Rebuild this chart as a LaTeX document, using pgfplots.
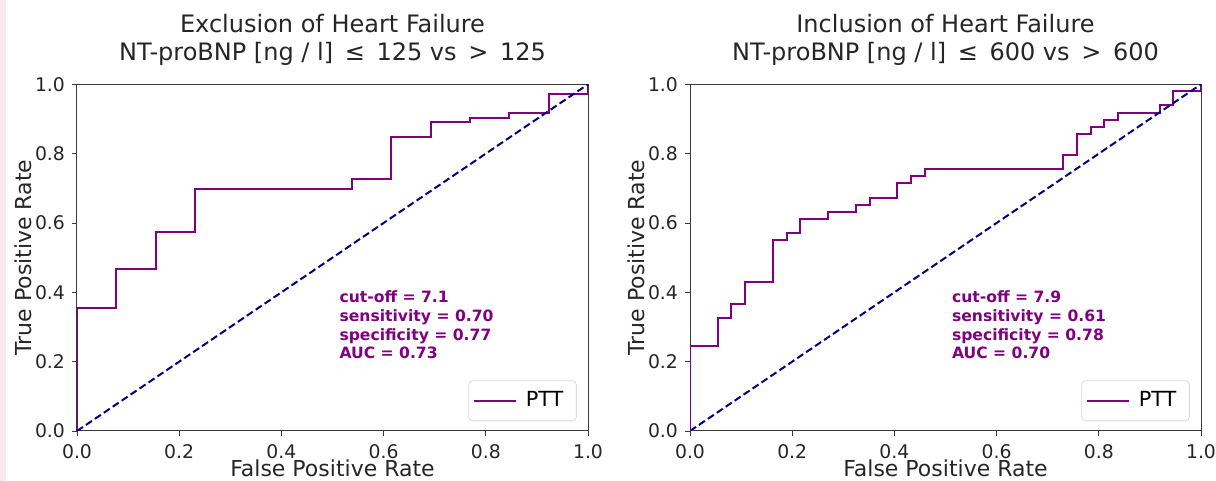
\documentclass[border=0pt]{standalone}
\usepackage{fontspec}
\setmainfont{DejaVu Sans}
\usepackage{pgfplots}
\pgfplotsset{compat=1.18}
\definecolor{mplpurple}{HTML}{800080}
\definecolor{mplnavy}{HTML}{000080}
\definecolor{spine}{HTML}{3A3A3A}
\definecolor{pinkstrip}{HTML}{FAE9F0}

\pgfplotsset{
  rocaxis/.style={
    scale only axis,
    width=255.5pt, height=173.35pt,
    xmin=0, xmax=1, ymin=0, ymax=1,
    xtick={0,0.2,0.4,0.6,0.8,1.0},
    ytick={0,0.2,0.4,0.6,0.8,1.0},
    /pgf/number format/assume math mode=true,
    /pgf/number format/fixed,
    /pgf/number format/fixed zerofill,
    /pgf/number format/precision=1,
    tick align=outside,
    major tick length=2.5pt,
    tick style={spine, line width=0.4pt},
    xtick pos=bottom, ytick pos=left,
    axis line style={spine, line width=0.5pt},
    ticklabel style={font=\fontsize{9.4}{11}\selectfont, text=black!85},
    xticklabel style={yshift=-0.8pt},
    xlabel={False Positive Rate},
    ylabel={True Positive Rate},
    label style={font=\fontsize{11}{13}\selectfont, text=black!85},
    xlabel style={at={(axis description cs:0.5,0)}, anchor=base, yshift=-23pt},
    ylabel style={at={(axis description cs:0,0.5)}, anchor=center, yshift=27pt},
    title style={at={(axis description cs:0.5,1)}, anchor=south, align=center,
      font=\fontsize{12}{14}\selectfont, text=black!85, inner sep=0pt, yshift=3pt},
    legend style={at={(axis description cs:0.978,0.028)}, anchor=south east,
      draw=black!15, rounded corners=2pt, font=\fontsize{10.4}{12}\selectfont,
      inner xsep=2pt, inner ysep=3.5pt,
      nodes={inner xsep=4.5pt}},
    legend cell align=left,
    legend image code/.code={\draw[#1] (0pt,0pt) -- (21pt,0pt);},
  },
  roc/.style={mplpurple, line width=1pt},
  chance/.style={mplnavy, line width=1pt, dash pattern=on 3.6pt off 1.8pt},
}

\begin{document}
\begin{tikzpicture}
\useasboundingbox (-38.5pt,-25pt) rectangle (569.5pt,215.5pt);
\fill[pinkstrip] (-38.5pt,-25pt) rectangle (-35.5pt,215.5pt);

\begin{axis}[rocaxis, at={(0pt,0pt)}, anchor=origin,
  title={Exclusion of Heart Failure\\NT-proBNP [ng / l] \,≤\, 125 vs \,>\, 125}]
\addplot[roc] coordinates {
(0,0) (0,0.356) (0.0769,0.356) (0.0769,0.466) (0.1538,0.466) (0.1538,0.575)
(0.2308,0.575) (0.2308,0.699) (0.5385,0.699) (0.5385,0.726) (0.6154,0.726)
(0.6154,0.849) (0.6923,0.849) (0.6923,0.890) (0.7692,0.890) (0.7692,0.904)
(0.8462,0.904) (0.8462,0.918) (0.9231,0.918) (0.9231,0.973) (1,0.973) (1,1)};
\addlegendentry{PTT}
\addplot[chance, forget plot] coordinates {(0,0) (1,1)};
\node[anchor=north west, inner sep=0pt, align=left, text=mplpurple,
  font=\fontsize{7.8}{9.35}\selectfont\bfseries] at (axis cs:0.513,0.405)
  {cut-off = 7.1\\sensitivity = 0.70\\specificity = 0.77\\AUC = 0.73};
\end{axis}

\begin{axis}[rocaxis, at={(306.5pt,0pt)}, anchor=origin,
  title={Inclusion of Heart Failure\\NT-proBNP [ng / l] \,≤\, 600 vs \,>\, 600}]
\addplot[roc] coordinates {
(0,0) (0,0.245) (0.0541,0.245) (0.0541,0.327) (0.0811,0.327) (0.0811,0.367)
(0.1081,0.367) (0.1081,0.429) (0.1622,0.429) (0.1622,0.551) (0.1892,0.551)
(0.1892,0.571) (0.2162,0.571) (0.2162,0.612) (0.2703,0.612) (0.2703,0.633)
(0.3243,0.633) (0.3243,0.653) (0.3514,0.653) (0.3514,0.673) (0.4054,0.673)
(0.4054,0.714) (0.4324,0.714) (0.4324,0.735) (0.4595,0.735) (0.4595,0.755)
(0.7297,0.755) (0.7297,0.796) (0.7568,0.796) (0.7568,0.857) (0.7838,0.857)
(0.7838,0.878) (0.8108,0.878) (0.8108,0.898) (0.8378,0.898) (0.8378,0.918)
(0.9189,0.918) (0.9189,0.939) (0.9459,0.939) (0.9459,0.980) (1,0.980) (1,1)};
\addlegendentry{PTT}
\addplot[chance, forget plot] coordinates {(0,0) (1,1)};
\node[anchor=north west, inner sep=0pt, align=left, text=mplpurple,
  font=\fontsize{7.8}{9.35}\selectfont\bfseries] at (axis cs:0.512,0.405)
  {cut-off = 7.9\\sensitivity = 0.61\\specificity = 0.78\\AUC = 0.70};
\end{axis}
\end{tikzpicture}
\end{document}
